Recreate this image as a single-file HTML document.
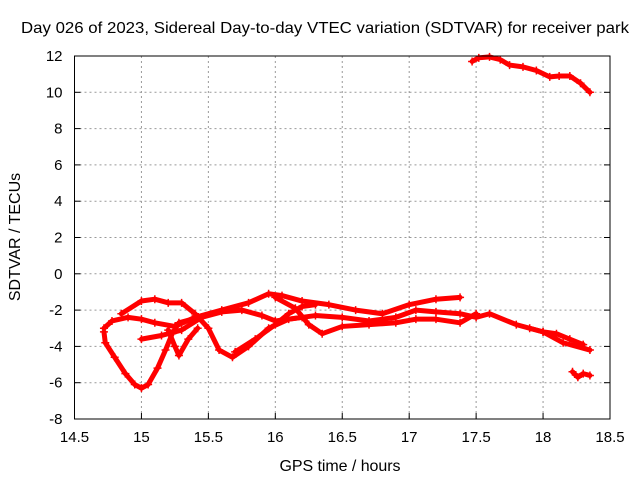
<!DOCTYPE html>
<html><head><meta charset="utf-8"><style>
body{margin:0;background:#fff;}
svg{display:block;font-family:"Liberation Sans",sans-serif;}
</style></head><body>
<svg id="chart" width="640" height="480" viewBox="0 0 640 480">
<text x="21" y="33" font-size="16" textLength="608" lengthAdjust="spacingAndGlyphs">Day 026 of 2023, Sidereal Day-to-day VTEC variation (SDTVAR) for receiver park</text>
<g id="grid"></g>
<g id="ticks"></g>
<g id="series"></g>
<rect x="74.5" y="56" width="535.5" height="363" fill="none" stroke="#000" stroke-width="1"/>
<text x="340" y="471" font-size="16" text-anchor="middle" textLength="121">GPS time / hours</text>
<text transform="translate(20,237) rotate(-90)" font-size="16" text-anchor="middle">SDTVAR / TECUs</text>
</svg>
<script>
const xTicks=[14.5,15,15.5,16,16.5,17,17.5,18,18.5];
const yTicks=[-8,-6,-4,-2,0,2,4,6,8,10,12];
const traceTop=[[17.47,11.7],[17.52,11.9],[17.6,11.95],[17.68,11.8],[17.75,11.5],[17.85,11.4],[17.95,11.2],[18.05,10.85],[18.12,10.9],[18.2,10.9],[18.28,10.5],[18.35,10.0]];
const traceLoop=[[14.72,-3.2],[14.73,-3.8],[14.8,-4.6],[14.88,-5.5],[14.95,-6.1],[15.0,-6.3],[15.05,-6.1],[15.12,-5.2],[15.18,-4.2],[15.23,-3.3],[15.28,-2.7],[15.38,-2.5]];
const traceUpper=[[14.72,-3.0],[14.78,-2.6],[14.9,-2.4],[15.0,-2.5],[15.1,-2.7],[15.25,-2.9],[15.4,-2.4],[15.6,-2.0],[15.8,-1.6],[15.95,-1.1],[16.05,-1.2],[16.2,-1.5],[16.4,-1.7],[16.6,-2.0],[16.8,-2.2],[17.0,-1.7],[17.2,-1.4],[17.38,-1.3]];
const traceMid=[[14.85,-2.2],[15.0,-1.5],[15.1,-1.4],[15.2,-1.6],[15.3,-1.6],[15.4,-2.2],[15.5,-3.0],[15.58,-4.2],[15.68,-4.6],[15.8,-4.0],[15.95,-3.0],[16.1,-2.5],[16.3,-2.3],[16.5,-2.4],[16.7,-2.6],[16.9,-2.4],[17.05,-2.0],[17.2,-2.1],[17.38,-2.2],[17.5,-2.4],[17.6,-2.2],[17.8,-2.8],[18.0,-3.2],[18.15,-3.8],[18.35,-4.2]];
const traceLow=[[15.0,-3.6],[15.15,-3.4],[15.3,-3.1],[15.45,-2.4],[15.6,-2.1],[15.75,-2.0],[15.9,-2.3],[16.0,-2.6],[16.2,-2.4]];
const traceRise=[[15.7,-4.3],[15.85,-3.6],[16.0,-2.8],[16.1,-2.2],[16.2,-1.8],[16.3,-1.7]];
const traceDip=[[15.2,-3.1],[15.25,-4.0],[15.28,-4.5],[15.35,-3.6],[15.42,-3.0]];
const traceWave=[[16.0,-1.3],[16.15,-1.9],[16.25,-2.8],[16.35,-3.3],[16.5,-2.9],[16.7,-2.8],[16.9,-2.7],[17.05,-2.5],[17.2,-2.5],[17.38,-2.7],[17.5,-2.2]];
const traceTail=[[17.9,-3.0],[18.0,-3.2],[18.1,-3.3],[18.2,-3.6],[18.3,-3.9]];
const traceBottom=[[18.22,-5.4],[18.26,-5.7],[18.3,-5.5],[18.35,-5.6]];
const traces=[traceTop,traceLoop,traceUpper,traceMid,traceLow,traceRise,traceDip,traceWave,traceTail,traceBottom];
const NS="http://www.w3.org/2000/svg";
const X0=74.5,X1=610,Y0=419,Y1=56;
const xs=v=>X0+(v-14.5)/(18.5-14.5)*(X1-X0);
const ys=v=>Y0-(v+8)/20*(Y0-Y1);
const grid=document.getElementById('grid'),ticks=document.getElementById('ticks'),ser=document.getElementById('series');
function mk(tag,attrs,parent){const e=document.createElementNS(NS,tag);for(const k in attrs)e.setAttribute(k,attrs[k]);parent.appendChild(e);return e;}
xTicks.forEach(t=>{const x=xs(t);
 if(t>14.5&&t<18.5){const g=mk('line',{x1:x,x2:x,y1:Y1,y2:Y0,stroke:'#999','stroke-dasharray':'2,3'},grid);
 
 }
 const tk=mk('line',{x1:x,x2:x,y1:Y0,y2:Y0-6,stroke:'#000'},ticks);
 
 
 const lb=mk('text',{x:x,y:Y0+23,'font-size':15,'text-anchor':'middle'},ticks);lb.textContent=String(t);
 
 
});
yTicks.forEach(t=>{const y=ys(t);
 if(t>-8&&t<12){const g=mk('line',{x1:X0,x2:X1,y1:y,y2:y,stroke:'#999','stroke-dasharray':'2,3'},grid);
 
 }
 const tk=mk('line',{x1:X0,x2:X0+6,y1:y,y2:y,stroke:'#000'},ticks);
 
 
 const tk2=mk('line',{x1:X1,x2:X1-6,y1:y,y2:y,stroke:'#000'},ticks);
 
 
 const lb=mk('text',{x:X0-12,y:y+5,'font-size':15,'text-anchor':'end'},ticks);lb.textContent=String(t);
 
 
});
traces.forEach(tr=>{
 const pl=mk('polyline',{points:tr.map(p=>xs(p[0])+','+ys(p[1])).join(' '),fill:'none',stroke:'#f00','stroke-width':5,'stroke-linejoin':'round','stroke-linecap':'round'},ser);
 
 
 tr.forEach(p=>{const x=xs(p[0]),y=ys(p[1]);
  const m=mk('path',{d:`M${x-4},${y}H${x+4}M${x},${y-4}V${y+4}`,stroke:'#f00','stroke-width':1.5},ser);
  
  
 });
});
</script>
</body></html>
